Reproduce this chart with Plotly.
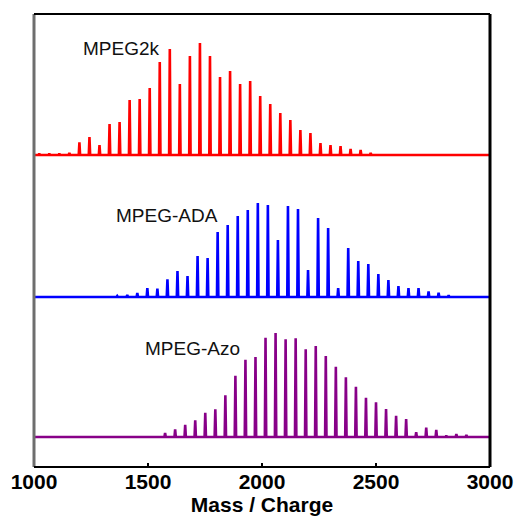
import numpy as np
import plotly.graph_objects as go

# m/z axis limits
X_MIN, X_MAX = 1000, 3000

# PEG repeat unit (Da) used to place the oligomer series
REPEAT = 44.05

# MPEG2k: first oligomer m/z and peak intensities (arb. units)
mpeg2k_start = 1023.0
mpeg2k_int = [1.5, 1.5, 1.5, 2, 12.7, 18, 10, 31, 33, 55, 56, 67, 93, 106, 71, 99,
              112, 99, 78, 84, 71, 74, 59, 51, 42, 35, 25, 22, 12, 10, 9, 6, 5, 2]

# MPEG-ADA
ada_start = 1365.0
ada_int = [1, 2, 4, 9, 8.3, 17.7, 26, 21, 41, 39, 65, 72, 81, 87, 94, 92, 57,
           91, 88, 27, 79, 69, 9, 49, 36, 33, 23, 17, 11, 9, 9, 5.7, 4.3, 1.7]

# MPEG-Azo
azo_start = 1575.0
azo_int = [4, 7.7, 12.3, 16.7, 24.3, 27.7, 41.7, 61.3, 77.3, 80, 99.3, 104,
           97.7, 98.7, 87.7, 91, 81, 70.3, 59.7, 50.3, 39.3, 34.7, 28, 21.3, 18,
           4.7, 9.3, 7, 1.3, 3, 2]

labels = ["MPEG2k", "MPEG-ADA", "MPEG-Azo"]
tick_vals = [1000, 1500, 2000, 2500, 3000]

FONT = "Liberation Sans, Arial"


def stick_spectrum(start, intensities, offset, half_width=3.0):
    """Turn a list of peak intensities into a narrow-peak line trace."""
    xs, ys = [X_MIN], [offset]
    for k, h in enumerate(intensities):
        m = start + REPEAT * k
        xs += [m - half_width, m, m + half_width]
        ys += [offset, offset + h, offset]
    xs.append(X_MAX)
    ys.append(offset)
    return xs, ys


series = [
    (mpeg2k_start, mpeg2k_int, 312, "#ff0000", labels[0], 1208, 419),
    (ada_start, ada_int, 170, "#0000ff", labels[1], 1352, 252),
    (azo_start, azo_int, 30, "#880088", labels[2], 1476, 119),
]

fig = go.Figure()
annotations = []
for start, inten, offset, color, name, lx, ly in series:
    xs, ys = stick_spectrum(start, inten, offset)
    fig.add_trace(go.Scatter(x=xs, y=ys, mode="lines",
                             line=dict(color=color, width=2.6),
                             hoverinfo="skip", showlegend=False))
    annotations.append(dict(x=lx, y=ly, xref="x", yref="y", text=name,
                            showarrow=False, xanchor="left", yanchor="middle",
                            font=dict(family=FONT, size=19, color="#111111")))

frame = [
    # left (grey), top, right, bottom borders
    dict(x0=0, x1=0, y0=0, y1=1, color="#6e6e6e", width=3),
    dict(x0=0, x1=1, y0=1, y1=1, color="#000000", width=2),
    dict(x0=1, x1=1, y0=0, y1=1, color="#000000", width=3),
    dict(x0=0, x1=1, y0=0, y1=0, color="#000000", width=2),
]
shapes = [dict(type="line", xref="paper", yref="paper", x0=f["x0"], x1=f["x1"],
               y0=f["y0"], y1=f["y1"], line=dict(color=f["color"], width=f["width"]))
          for f in frame]

fig.update_layout(
    width=520, height=521,
    margin=dict(l=34, r=30, t=14, b=54),
    paper_bgcolor="white", plot_bgcolor="white",
    annotations=annotations, shapes=shapes,
    xaxis=dict(range=[X_MIN, X_MAX], tickvals=tick_vals,
               ticktext=[f"<b>{v}</b>" for v in tick_vals],
               automargin=False,
               ticks="inside", ticklen=4, tickwidth=2, tickcolor="#000",
               showgrid=False, zeroline=False, showline=False,
               tickfont=dict(family=FONT, size=21, color="#000", weight="bold"),
               title=dict(text="<b>Mass / Charge</b>", standoff=2,
                          font=dict(family=FONT, size=21, color="#000"))),
    yaxis=dict(range=[0, 453], showticklabels=False, ticks="",
               automargin=False,
               showgrid=False, zeroline=False, showline=False),
)

fig.write_html("out.html")
